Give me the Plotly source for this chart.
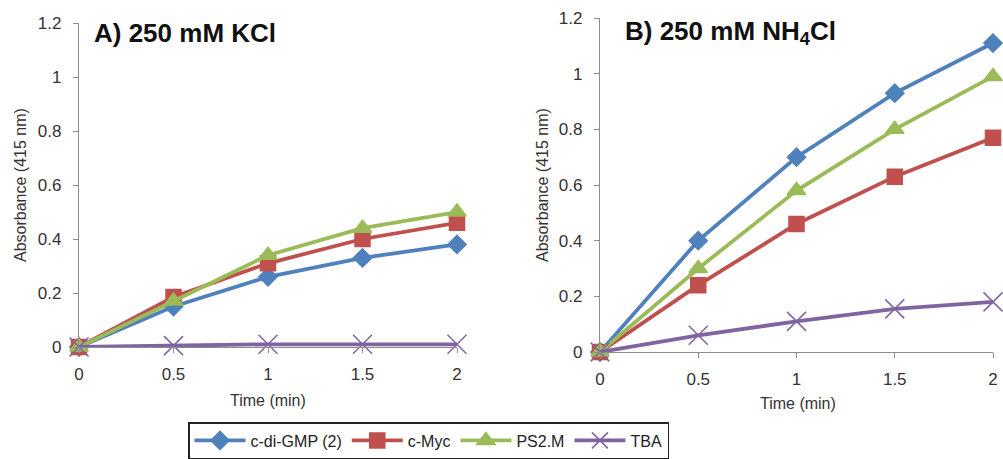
import plotly.graph_objects as go

time_min = [0, 0.5, 1, 1.5, 2]
series_names = ["c-di-GMP (2)", "c-Myc", "PS2.M", "TBA"]

kcl_cdigmp = [0, 0.15, 0.26, 0.33, 0.38]
kcl_cmyc = [0, 0.185, 0.31, 0.40, 0.46]
kcl_ps2m = [0, 0.17, 0.34, 0.44, 0.50]
kcl_tba = [0, 0.005, 0.01, 0.01, 0.01]

nh4_cdigmp = [0, 0.40, 0.70, 0.93, 1.11]
nh4_cmyc = [0, 0.24, 0.46, 0.63, 0.77]
nh4_ps2m = [0, 0.30, 0.58, 0.80, 0.99]
nh4_tba = [0, 0.06, 0.11, 0.155, 0.18]

y_ticks = [0, 0.2, 0.4, 0.6, 0.8, 1, 1.2]
x_ticks = [0, 0.5, 1, 1.5, 2]

colors = ["#4F81BD", "#C0504D", "#9BBB59", "#8064A2"]
symbols = ["diamond", "square", "triangle-up", "x-thin"]
sizes = [14, 15, 16, 19]

FONT = "Liberation Sans, Arial, sans-serif"
W, H = 1003, 459


def px(v):
    return v / W


def py(v):
    return 1 - v / H


fig = go.Figure()

panels = [
    ("x", "y", [kcl_cdigmp, kcl_cmyc, kcl_ps2m, kcl_tba], True),
    ("x2", "y2", [nh4_cdigmp, nh4_cmyc, nh4_ps2m, nh4_tba], False),
]
for xa, ya, data, show in panels:
    for i, vals in enumerate(data):
        fig.add_trace(go.Scatter(
            x=time_min, y=vals, name=series_names[i], mode="lines+markers",
            xaxis=xa, yaxis=ya, showlegend=show, cliponaxis=False,
            line=dict(color=colors[i], width=3.8),
            marker=dict(symbol=symbols[i], size=sizes[i], color=colors[i],
                        line=dict(width=1.5, color=colors[i])),
        ))

axis_common = dict(showgrid=False, zeroline=False, showline=True,
                   linecolor="#8c8c8c", linewidth=1.3, ticks="outside",
                   ticklen=5, tickcolor="#8c8c8c", automargin=False,
                   ticklabeloverflow="allow",
                   tickfont=dict(family=FONT, size=17, color="#333333"))

fig.update_layout(
    width=W, height=H, margin=dict(l=0, r=0, t=0, b=0, autoexpand=False),
    paper_bgcolor="white", plot_bgcolor="white",
    xaxis=dict(domain=[px(79), px(457)], range=[0, 2], tickvals=x_ticks,
               anchor="y", ticklabelstandoff=6, **axis_common),
    yaxis=dict(domain=[py(347), py(23)], range=[0, 1.2], tickvals=y_ticks,
               anchor="x", ticklabelstandoff=8, **axis_common),
    xaxis2=dict(domain=[px(600), px(993)], range=[0, 2], tickvals=x_ticks,
                anchor="y2", ticklabelstandoff=6, **axis_common),
    yaxis2=dict(domain=[py(352), py(18)], range=[0, 1.2], tickvals=y_ticks,
                anchor="x2", ticklabelstandoff=8, **axis_common),
    legend=dict(orientation="h", x=px(188), y=py(422), xanchor="left", yanchor="top",
                bordercolor="#222222", borderwidth=1.5, bgcolor="white", itemwidth=51,
                font=dict(family=FONT, size=16, color="#222222")),
    font=dict(family=FONT),
)

ann_font = dict(family=FONT, size=16, color="#333333")
annotations = [
    dict(text="<b>A) 250 mM KCl</b>", x=px(92), y=py(33), xanchor="left", yanchor="middle",
         font=dict(family=FONT, size=26, color="#111111")),
    dict(text="<b>B) 250 mM NH<sub>4</sub>Cl</b>", x=px(623), y=py(33), xanchor="left",
         yanchor="middle", font=dict(family=FONT, size=26, color="#111111")),
    dict(text="Absorbance (415 nm)", x=px(20), y=py(185), textangle=-90,
         xanchor="center", yanchor="middle", font=ann_font),
    dict(text="Absorbance (415 nm)", x=px(542), y=py(185), textangle=-90,
         xanchor="center", yanchor="middle", font=ann_font),
    dict(text="Time (min)", x=px(268), y=py(400), xanchor="center", yanchor="middle",
         font=ann_font),
    dict(text="Time (min)", x=px(798), y=py(403), xanchor="center", yanchor="middle",
         font=ann_font),
]
for a in annotations:
    a.update(xref="paper", yref="paper", showarrow=False)
fig.update_layout(annotations=annotations)

# remove the default 8px body margin so the 1003x459 figure fills the window exactly
fig.write_html("out.html", config={"displayModeBar": False},
               post_script="document.body.style.margin='0px';")
